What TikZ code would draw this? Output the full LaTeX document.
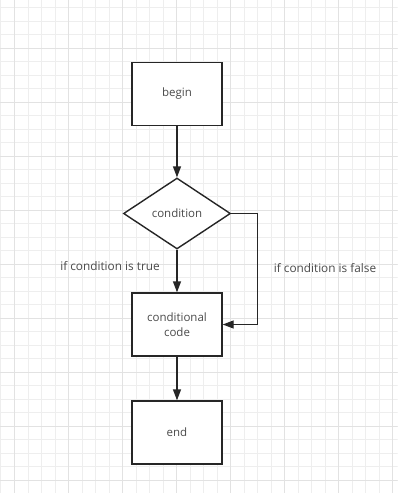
\documentclass[tikz,border=0pt]{standalone}
\usepackage{fontspec}
\setmainfont{Open Sans}
\usetikzlibrary{shapes.geometric,arrows.meta}
\definecolor{gridminor}{HTML}{EEEEEE}
\definecolor{gridmajor}{HTML}{E2E2E2}
\definecolor{edgecol}{HTML}{262626}
\definecolor{txtcol}{HTML}{4A4A4A}
\tikzset{
  boxnode/.style={draw=edgecol, line width=1.4pt, fill=white, minimum width=90pt, minimum height=63pt, inner sep=0pt, text=txtcol, font=\fontsize{11.5}{15}\selectfont, align=center},
  decnode/.style={diamond, draw=edgecol, line width=1.4pt, fill=white, minimum width=107pt, minimum height=71pt, inner sep=0pt, text=txtcol, font=\fontsize{11.5}{15}\selectfont},
  lbl/.style={text=txtcol, font=\fontsize{11.8}{15}\selectfont, inner sep=0pt},
  conn/.style={draw=edgecol, line width=1.4pt, -{Triangle[length=11pt,width=8pt]}}
}
\begin{document}
\begin{tikzpicture}[x=1pt,y=-1pt]
\useasboundingbox (0,0) rectangle (403,493);
\fill[white] (0,0) rectangle (403,493);
\begin{scope}
\clip (0,0) rectangle (397.5,493);
\foreach \i in {0,...,29} {
  \pgfmathsetmacro{\xx}{0.8+13.5*\i}
  \draw[gridminor, line width=0.6pt] (\xx,0) -- (\xx,493);
}
\foreach \i in {0,...,36} {
  \pgfmathsetmacro{\yy}{7.5+13.5*\i}
  \draw[gridminor, line width=0.6pt] (0,\yy) -- (403,\yy);
}
\foreach \i in {0,...,7} {
  \pgfmathsetmacro{\xx}{14.3+54*\i}
  \draw[gridmajor, line width=0.7pt] (\xx,0) -- (\xx,493);
}
\foreach \i in {0,...,9} {
  \pgfmathsetmacro{\yy}{-6+54*\i}
  \draw[gridmajor, line width=0.7pt] (0,\yy) -- (403,\yy);
}
\end{scope}

\node[boxnode] (begin) at (177,94) {begin};
\node[decnode] (cond) at (177,213.5) {condition};
\node[boxnode] (code) at (177,324.5) {conditional\\code};
\node[boxnode] (end) at (177,432.5) {end};

\node[lbl] (ltrue) at (110,266) {if condition is true};
\node[lbl] (lfalse) at (325,268) {if condition is false};

\coordinate (fx) at (257.5,0);

\draw[conn] (begin.south) -- (cond.north);
\draw[conn] (cond.south) -- (code.north);
\draw[conn] (cond.east) -| (fx |- code.east) -- (code.east);
\draw[conn] (code.south) -- (end.north);
\end{tikzpicture}
\end{document}
